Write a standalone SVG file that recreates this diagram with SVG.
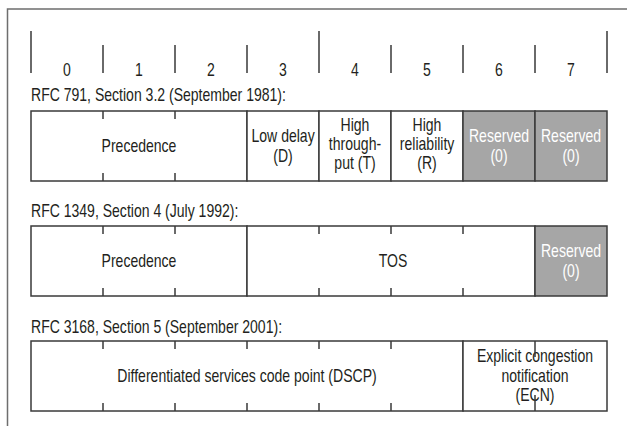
<svg xmlns="http://www.w3.org/2000/svg" width="627" height="426" viewBox="0 0 627 426">
<style>
text{font-family:"Liberation Sans",Arial,sans-serif;font-size:18px;fill:#231f20;text-anchor:middle;transform-box:fill-box;transform-origin:center;transform:scaleX(0.78)}
.lbl{text-anchor:start;transform-origin:left center}
.w{fill:#ffffff}
.box{fill:#ffffff;stroke:#3a3a3a;stroke-width:1.5}
.gray{fill:#a6a6a6;stroke:#3a3a3a;stroke-width:1.5}
.ln{stroke:#3a3a3a;stroke-width:1.5;fill:none}
.frame{fill:none;stroke:#6e6e6e;stroke-width:1.5}
</style>
<rect width="627" height="426" fill="#ffffff"/>
<path class="frame" d="M7.5,440 V9 H640"/>

<g id="header">
  <path class="ln" d="M31,31V73 M103,45V73 M175,45V73 M247,45V73 M319,31V73 M391,45V73 M463,45V73 M535,45V73 M607,31V73"/>
  <text x="67" y="76">0</text>
  <text x="139" y="76">1</text>
  <text x="211" y="76">2</text>
  <text x="283" y="76">3</text>
  <text x="355" y="76">4</text>
  <text x="427" y="76">5</text>
  <text x="499" y="76">6</text>
  <text x="571" y="76">7</text>
</g>

<g id="row1">
  <text class="lbl" x="31" y="101">RFC 791, Section 3.2 (September 1981):</text>
  <g id="r1-precedence">
    <rect class="box" x="31" y="111" width="216" height="70"/>
    <text x="139" y="152">Precedence</text>
  </g>
  <g id="r1-lowdelay">
    <rect class="box" x="247" y="111" width="72" height="70"/>
    <text x="283" y="142">Low delay</text>
    <text x="283" y="162">(D)</text>
  </g>
  <g id="r1-throughput">
    <rect class="box" x="319" y="111" width="72" height="70"/>
    <text x="355" y="131">High</text>
    <text x="355" y="150">through-</text>
    <text x="355" y="169">put (T)</text>
  </g>
  <g id="r1-reliability">
    <rect class="box" x="391" y="111" width="72" height="70"/>
    <text x="427" y="131">High</text>
    <text x="427" y="150">reliability</text>
    <text x="427" y="169">(R)</text>
  </g>
  <g id="r1-reserved6">
    <rect class="gray" x="463" y="111" width="72" height="70"/>
    <text class="w" x="499" y="142">Reserved</text>
    <text class="w" x="499" y="162">(0)</text>
  </g>
  <g id="r1-reserved7">
    <rect class="gray" x="535" y="111" width="72" height="70"/>
    <text class="w" x="571" y="142">Reserved</text>
    <text class="w" x="571" y="162">(0)</text>
  </g>
</g>

<g id="row2">
  <text class="lbl" x="31" y="217">RFC 1349, Section 4 (July 1992):</text>
  <g id="r2-precedence">
    <rect class="box" x="31" y="226" width="216" height="70"/>
    <text x="139" y="267">Precedence</text>
  </g>
  <g id="r2-tos">
    <rect class="box" x="247" y="226" width="288" height="70"/>
    <text x="393" y="267">TOS</text>
  </g>
  <g id="r2-reserved">
    <rect class="gray" x="535" y="226" width="72" height="70"/>
    <text class="w" x="571" y="257">Reserved</text>
    <text class="w" x="571" y="277">(0)</text>
  </g>
</g>

<g id="row3">
  <text class="lbl" x="31" y="333">RFC 3168, Section 5 (September 2001):</text>
  <g id="r3-dscp">
    <rect class="box" x="31" y="341" width="432" height="70"/>
    <text x="247" y="382">Differentiated services code point (DSCP)</text>
  </g>
  <g id="r3-ecn">
    <rect class="box" x="463" y="341" width="144" height="70"/>
    <text x="535" y="362">Explicit congestion</text>
    <text x="535" y="382">notification</text>
    <text x="535" y="401">(ECN)</text>
  </g>
</g>

<g id="connectors">
  <path class="ln" d="M103,111v8 M175,111v8 M103,181v-8 M175,181v-8"/>
  <path class="ln" d="M103,226v8 M175,226v8 M103,296v-8 M175,296v-8 M319,226v8 M391,226v8 M463,226v8 M319,296v-8 M391,296v-8 M463,296v-8"/>
  <path class="ln" d="M103,341v8 M175,341v8 M247,341v8 M319,341v8 M391,341v8 M103,411v-8 M175,411v-8 M247,411v-8 M319,411v-8 M391,411v-8 M535,341v16 M535,411v-16"/>
</g>
</svg>
